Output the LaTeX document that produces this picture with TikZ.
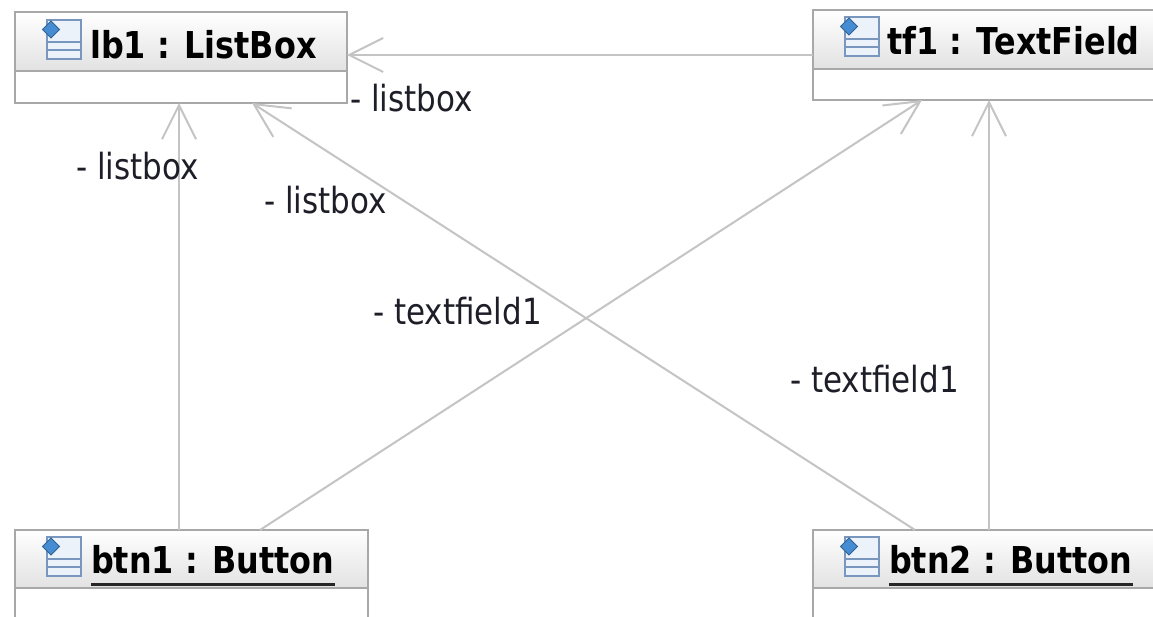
\documentclass[tikz,border=0pt]{standalone}
\usepackage{fontspec}
\usepackage{xcolor}
\usepackage{tikz}
\usetikzlibrary{arrows.meta,positioning}
\setmainfont{DejaVu Sans}
\newfontfamily\umlfont[FakeStretch=0.86]{DejaVu Sans}
\definecolor{borde}{RGB}{168,168,168}
\definecolor{fondo}{RGB}{226,226,226}
\definecolor{linea}{RGB}{196,196,196}
\definecolor{texto}{RGB}{30,30,40}
\definecolor{icborde}{RGB}{120,150,190}
\definecolor{icfondo}{RGB}{236,242,250}
\definecolor{diam}{RGB}{70,140,210}

\begin{document}
\begin{tikzpicture}
            [x=1pt, y=-1pt,
            cabecera/.style = {draw=borde, line width=2pt,
                        top color=white, bottom color=fondo,
                        anchor=north west, inner sep=0pt, outer sep=0pt,
                        minimum height=59pt},
            cuerpo/.style = {draw=borde, line width=2pt, fill=white,
                        inner sep=0pt, outer sep=0pt},
            titulo/.style = {font=\fontsize{37}{40}\selectfont\umlfont\bfseries,
                        anchor=base west, inner sep=0pt},
            rol/.style = {font=\fontsize{36}{40}\selectfont\umlfont,
                        text=texto, anchor=base west, inner sep=0pt},
            asoc/.style = {draw=linea, line width=2pt,
                        -{Straight Barb[length=34pt,width=34pt]}},
            pics/icono/.style = {code = {
                \draw[icborde, fill=icfondo, line width=1.5pt] (0,0) rectangle (34,39);
                \draw[icborde, line width=1.5pt] (0,22) -- (34,22) (0,30) -- (34,30);
                \draw[diam!70!black, fill=diam, line width=1pt]
                    (4,1) -- (12.5,9.5) -- (4,18) -- (-4.5,9.5) -- cycle;}}]
            \useasboundingbox (0,0) rectangle (1153,617);
            \clip (0,0) rectangle (1153,617);
            \fill[white] (0,0) rectangle (1153,617);
            % Objetos
            \node[cabecera, minimum width=332pt] (lb1) at (15,12) {};
            \node[cuerpo, minimum width=332pt, minimum height=32pt, below=0pt of lb1] (lb1c) {};
            \node[cabecera, minimum width=360pt] (tf1) at (813,10) {};
            \node[cuerpo, minimum width=360pt, minimum height=31pt, below=0pt of tf1] (tf1c) {};
            \node[cabecera, minimum width=353pt, minimum height=58pt] (btn1) at (15,530) {};
            \node[cuerpo, minimum width=353pt, minimum height=50pt, below=0pt of btn1] (btn1c) {};
            \node[cabecera, minimum width=360pt, minimum height=58pt] (btn2) at (813,530) {};
            \node[cuerpo, minimum width=360pt, minimum height=50pt, below=0pt of btn2] (btn2c) {};

            \pic at ([xshift=32pt,yshift=-8pt]lb1.north west) {icono};
            \pic at ([xshift=32pt,yshift=-7pt]tf1.north west) {icono};
            \pic at ([xshift=32pt,yshift=-7pt]btn1.north west) {icono};
            \pic at ([xshift=32pt,yshift=-7pt]btn2.north west) {icono};

            \node[titulo] (lb1t) at ([xshift=75pt,yshift=-47pt]lb1.north west) {lb1 : ListBox};
            \node[titulo] (tf1t) at ([xshift=74pt,yshift=-45pt]tf1.north west) {tf1 : TextField};
            \node[titulo] (btn1t) at ([xshift=76pt,yshift=-43pt]btn1.north west) {btn1 : Button};
            \node[titulo] (btn2t) at ([xshift=76pt,yshift=-43pt]btn2.north west) {btn2 : Button};
            \draw[line width=3pt, black!85] ([yshift=-11pt]btn1t.base west) -- ([yshift=-11pt]btn1t.base east);
            \draw[line width=3pt, black!85] ([yshift=-11pt]btn2t.base west) -- ([yshift=-11pt]btn2t.base east);

            % Asociaciones
            \coordinate (tf1o) at ([yshift=-15.5pt]tf1.west);
            \draw[asoc] (tf1o) -- (tf1o -| lb1.east);
            \draw[asoc] ([xshift=-12.5pt]btn1.north) -- ([xshift=-12.5pt]btn1.north |- lb1c.south);
            \draw[asoc] ([xshift=-78pt]btn2.north) -- ([xshift=71pt]lb1c.south);
            \draw[asoc] ([xshift=68.5pt]btn1.north) -- ([xshift=-71pt]tf1c.south);
            \draw[asoc] ([xshift=-4pt]btn2.north) -- ([xshift=-4pt]btn2.north |- tf1c.south);

            \node[rol] (r1) at (350,112) {- listbox};
            \node[rol] (r2) at (76,180) {- listbox};
            \node[rol] (r3) at (264,214) {- listbox};
            \node[rol] (r4) at (373,325) {- textfield1};
            \node[rol] (r5) at (790,392) {- textfield1};
        \end{tikzpicture}
\end{document}
